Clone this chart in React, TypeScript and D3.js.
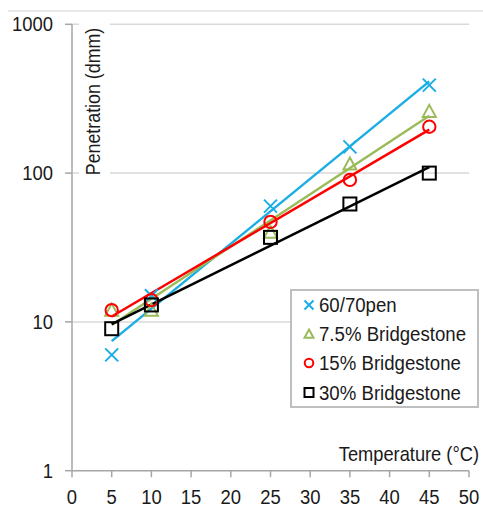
import React from "react";
import * as d3 from "d3";

const temps = [5, 10, 25, 35, 45];
const pen6070 = [6, 15, 60, 150, 390];
const bridge75 = [12, 12, 40, 115, 260];
const bridge15 = [12, 14, 47, 90, 205];
const bridge30 = [9, 13, 37, 62, 100];
const seriesNames = ["60/70pen", "7.5% Bridgestone", "15% Bridgestone", "30% Bridgestone"];
const xTicks = [0, 5, 10, 15, 20, 25, 30, 35, 40, 45, 50];
const yTicks = [1, 10, 100, 1000];

const W = 483, H = 507;
const x = d3.scaleLinear().domain([0, 50]).range([72, 469]);
const y = d3.scaleLog().domain([1, 1000]).range([470.7, 24.3]);
const FONT = "'Liberation Sans', Arial, sans-serif";
const SX = 0.9;

type Kind = "x" | "tri" | "circ" | "sq";
const series: { name: string; vals: number[]; color: string; kind: Kind }[] = [
  { name: seriesNames[0], vals: pen6070, color: "#1aaee5", kind: "x" },
  { name: seriesNames[1], vals: bridge75, color: "#9bbb59", kind: "tri" },
  { name: seriesNames[2], vals: bridge15, color: "#ff0000", kind: "circ" },
  { name: seriesNames[3], vals: bridge30, color: "#000000", kind: "sq" },
];

function fit(vals: number[]) {
  const ly = vals.map((v) => Math.log10(v));
  const mx = d3.mean(temps)!;
  const my = d3.mean(ly)!;
  let sxy = 0, sxx = 0;
  temps.forEach((t, i) => {
    sxy += (t - mx) * (ly[i] - my);
    sxx += (t - mx) * (t - mx);
  });
  const b = sxy / sxx;
  const a = my - b * mx;
  return (t: number) => Math.pow(10, a + b * t);
}

function T({ x: tx, y: ty, anchor, size, rot, children }: { x: number; y: number; anchor?: string; size: number; rot?: boolean; children: React.ReactNode }) {
  return (
    <text
      transform={`translate(${tx},${ty})${rot ? " rotate(-90)" : ""} scale(${SX},1)`}
      textAnchor={anchor || "start"}
      fontSize={size}
      fill="#1a1a1a"
    >
      {children}
    </text>
  );
}

function Marker({ kind, cx, cy, color, s }: { kind: Kind; cx: number; cy: number; color: string; s: number }) {
  const h = s / 2;
  const sw = 2;
  if (kind === "x")
    return (
      <path d={`M${cx - h},${cy - h}L${cx + h},${cy + h}M${cx - h},${cy + h}L${cx + h},${cy - h}`} stroke={color} strokeWidth={sw} fill="none" />
    );
  if (kind === "tri")
    return (
      <path d={`M${cx},${cy - h}L${cx + h},${cy + h * 0.85}L${cx - h},${cy + h * 0.85}Z`} stroke={color} strokeWidth={sw} fill="none" />
    );
  if (kind === "circ") return <circle cx={cx} cy={cy} r={h * 0.95} stroke={color} strokeWidth={sw} fill="none" />;
  return <rect x={cx - h} y={cy - h} width={s} height={s} stroke={color} strokeWidth={sw} fill="none" />;
}

export default function App() {
  const legendRows = [305, 334, 363, 392.5];
  return (
    <svg width={W} height={H} style={{ position: "absolute", left: 0, top: 0, background: "#fff" }} fontFamily={FONT}>
      <line x1={8} x2={W} y1={11} y2={11} stroke="#e3e3e3" strokeWidth={1.5} />
      {[10, 100, 1000].map((v) => (
        <line key={v} x1={x(0)} x2={x(50)} y1={y(v)} y2={y(v)} stroke="#d9d9d9" strokeWidth={1.5} />
      ))}
      <line x1={x(0)} x2={x(0)} y1={y(1000)} y2={y(1)} stroke="#a6a6a6" strokeWidth={1.5} />
      <line x1={x(0)} x2={x(50)} y1={y(1)} y2={y(1)} stroke="#a6a6a6" strokeWidth={1.5} />
      {yTicks.map((v) => (
        <g key={v}>
          <line x1={65} x2={x(0)} y1={y(v)} y2={y(v)} stroke="#a6a6a6" strokeWidth={1.5} />
          <T x={53} y={y(v) + 7} anchor="end" size={20.5}>
            {v}
          </T>
        </g>
      ))}
      {xTicks.map((t) => (
        <g key={t}>
          <line x1={x(t)} x2={x(t)} y1={y(1)} y2={y(1) + 6.5} stroke="#a6a6a6" strokeWidth={1.5} />
          <T x={x(t)} y={504} anchor="middle" size={20.5}>
            {t}
          </T>
        </g>
      ))}
      <rect x={79} y={14} width={31} height={168} fill="#fff" />
      <T x={100} y={101.5} anchor="middle" size={19.8} rot>
        Penetration (dmm)
      </T>
      <T x={479} y={461} anchor="end" size={20.3}>
        Temperature (°C)
      </T>
      {series.map((s) => {
        const f = fit(s.vals);
        const path = d3
          .line<number>()
          .x((t) => x(t))
          .y((t) => y(f(t)))([temps[0], temps[temps.length - 1]]);
        return <path key={s.name} d={path!} stroke={s.color} strokeWidth={2.5} fill="none" />;
      })}
      {series.map((s) =>
        s.vals.map((v, i) => (
          <Marker key={s.name + i} kind={s.kind} cx={x(temps[i])} cy={y(v)} color={s.color} s={13} />
        ))
      )}
      <rect x={291} y={290} width={187} height={117} fill="#fff" stroke="#bfbfbf" strokeWidth={2} />
      {series.map((s, i) => (
        <g key={s.name}>
          <Marker kind={s.kind} cx={309} cy={legendRows[i]} color={s.color} s={9} />
          <T x={319} y={legendRows[i] + 7} size={20.7}>
            {s.name}
          </T>
        </g>
      ))}
    </svg>
  );
}
